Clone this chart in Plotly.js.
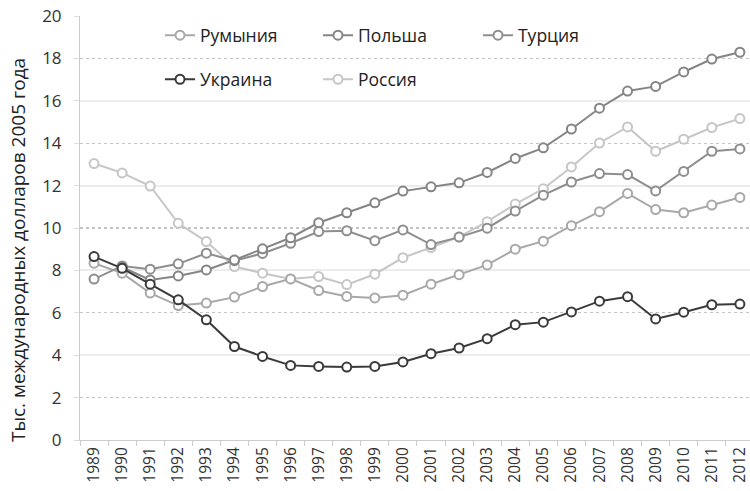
<!DOCTYPE html>
<html>
<head>
<meta charset="utf-8">
<script src="https://cdn.plot.ly/plotly-3.0.1.min.js"></script>
<style>html,body{margin:0;padding:0;background:#fff;}#chart{width:750px;height:491px;}</style>
</head>
<body>
<div id="chart"></div>
<script>
const years = ["1989","1990","1991","1992","1993","1994","1995","1996","1997","1998","1999","2000","2001","2002","2003","2004","2005","2006","2007","2008","2009","2010","2011","2012"];
const romania = [8.34, 7.87, 6.93, 6.34, 6.46, 6.74, 7.24, 7.6, 7.05, 6.77, 6.7, 6.83, 7.35, 7.8, 8.26, 9.0, 9.38, 10.11, 10.77, 11.63, 10.87, 10.72, 11.08, 11.44];
const poland = [null, 8.15, 7.55, 7.74, 8.02, 8.49, 9.02, 9.54, 10.25, 10.72, 11.19, 11.74, 11.94, 12.13, 12.62, 13.28, 13.78, 14.67, 15.65, 16.46, 16.68, 17.36, 17.97, 18.29];
const turkey = [7.59, 8.21, 8.06, 8.31, 8.81, 8.46, 8.8, 9.28, 9.83, 9.87, 9.4, 9.91, 9.22, 9.57, 9.99, 10.8, 11.55, 12.17, 12.57, 12.52, 11.75, 12.67, 13.62, 13.73];
const ukraine = [8.65, 8.1, 7.35, 6.61, 5.67, 4.41, 3.94, 3.52, 3.47, 3.44, 3.47, 3.68, 4.07, 4.34, 4.78, 5.44, 5.56, 6.04, 6.55, 6.76, 5.71, 6.03, 6.38, 6.41];
const russia = [13.04, 12.6, 11.98, 10.22, 9.36, 8.18, 7.87, 7.6, 7.71, 7.33, 7.82, 8.6, 9.08, 9.58, 10.3, 11.13, 11.85, 12.88, 14.01, 14.77, 13.62, 14.19, 14.74, 15.16];
const names = ["Румыния", "Польша", "Турция", "Украина", "Россия"];
const yTitle = "Тыс. международных долларов 2005 года";

function tr(name, y, color, legend) {
  return {
    type: 'scatter', mode: 'lines+markers', name: name, x: years, y: y,
    legend: legend,
    line: {color: color, width: 2},
    marker: {symbol: 'circle', size: 9, color: '#ffffff', line: {color: color, width: 2}},
    hoverinfo: 'x+y+name'
  };
}
function gridCarrier(axis) {
  return {type: 'scatter', mode: 'lines', x: [years[0]], y: [null], yaxis: axis,
          showlegend: false, hoverinfo: 'skip', line: {color: 'rgba(0,0,0,0)'}};
}
const data = [
  gridCarrier('y2'),
  gridCarrier('y3'),
  tr(names[4], russia, '#c6c6c6', 'legend5'),
  tr(names[0], romania, '#a8a8a8', 'legend'),
  tr(names[2], turkey, '#8e8e8e', 'legend3'),
  tr(names[1], poland, '#858585', 'legend2'),
  tr(names[3], ukraine, '#3a3a3a', 'legend4')
];
const font = "'Open Sans', 'Noto Sans', sans-serif";
function leg(x, y) {
  return {
    orientation: 'v', xanchor: 'left', yanchor: 'top', x: x, y: y,
    bgcolor: 'rgba(0,0,0,0)', borderwidth: 0,
    font: {family: font, size: 17.5, color: '#222'}
  };
}
const row1 = 0.997, row2 = 0.893;
const col1 = 0.1194, col2 = 0.3552, col3 = 0.594;
const layout = {
  width: 750, height: 491,
  margin: {l: 80, r: 0, t: 15.5, b: 50.5, pad: 0},
  paper_bgcolor: '#ffffff', plot_bgcolor: '#ffffff',
  font: {family: font, size: 16, color: '#333'},
  showlegend: true,
  legend: leg(col1, row1),
  legend2: leg(col2, row1),
  legend3: leg(col3, row1),
  legend4: leg(col1, row2),
  legend5: leg(col2, row2),
  xaxis: {
    type: 'category', range: [-0.5, 23.36], tickangle: -90,
    tickson: 'boundaries', ticks: 'outside', ticklen: 5, tickcolor: '#cccccc',
    showline: true, linecolor: '#cccccc', linewidth: 1, showgrid: false, zeroline: false,
    tickfont: {family: font, size: 15.5, color: '#333'}
  },
  yaxis: {
    range: [0, 20], dtick: 2, tick0: 0, showgrid: false, zeroline: false,
    showline: true, linecolor: '#cccccc', linewidth: 1,
    ticks: 'outside', ticklen: 5, tickcolor: '#dddddd', ticklabelstandoff: 9,
    tickfont: {family: font, size: 17, color: '#333'}
  },
  yaxis2: {
    overlaying: 'y', anchor: 'x', range: [0, 20], tick0: 0, dtick: 4, showticklabels: false,
    showgrid: true, gridcolor: '#ececec', gridwidth: 2, zeroline: false, showline: false, ticks: ''
  },
  yaxis3: {
    overlaying: 'y', anchor: 'x', range: [0, 20], tick0: 2, dtick: 4, showticklabels: false,
    showgrid: true, gridcolor: '#c4c4c4', gridwidth: 1.3, griddash: 'dot', zeroline: false, showline: false, ticks: ''
  },
  annotations: [{
    text: yTitle, xref: 'paper', yref: 'paper', x: -0.0925, y: 0.448,
    xanchor: 'center', yanchor: 'middle', textangle: -90, showarrow: false,
    font: {family: font, size: 19, color: '#222'}
  }]
};
Plotly.newPlot('chart', data, layout, {displayModeBar: false, staticPlot: true});
</script>
</body>
</html>
